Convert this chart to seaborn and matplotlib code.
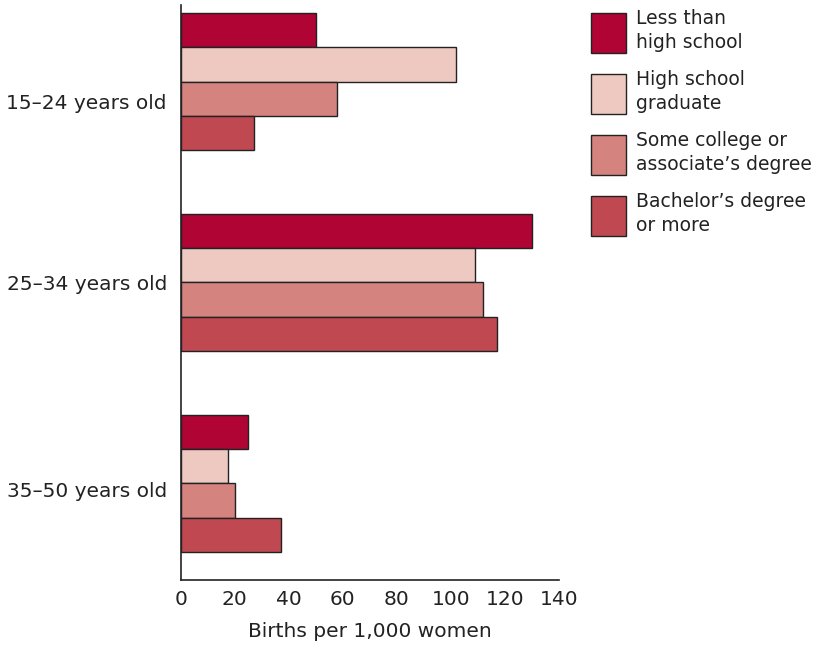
import matplotlib
matplotlib.use("Agg")
import matplotlib.pyplot as plt
import seaborn as sns
import pandas as pd

ages = ["15\u201324 years old", "25\u201334 years old", "35\u201350 years old"]
education = ["Less than\nhigh school", "High school\ngraduate",
             "Some college or\nassociate\u2019s degree", "Bachelor\u2019s degree\nor more"]
less_hs = [50, 130, 25]
hs_grad = [102, 109, 17.5]
some_college = [58, 112, 20]
bachelors = [27, 117, 37]
colors = ["#B00435", "#EDC9C1", "#D5837F", "#C04851"]

rows = []
for edu, vals in zip(education, [less_hs, hs_grad, some_college, bachelors]):
    for age, v in zip(ages, vals):
        rows.append({"age": age, "education": edu, "births": v})
df = pd.DataFrame(rows)

sns.set_style("white")
plt.rcParams["font.family"] = ["DejaVu Sans"]

fig = plt.figure(figsize=(8.22, 6.45), dpi=100)
ax = fig.add_axes([0.220, 0.101, 0.460, 0.891])
sns.barplot(data=df, y="age", x="births", hue="education", orient="h",
            palette=colors, width=0.68, edgecolor="#222222", linewidth=1.0,
            saturation=1, ax=ax)

ax.set_xlim(0, 140)
ax.set_ylim(2.48, -0.38)
ax.set_xticks(range(0, 141, 20))
# labels sit slightly below the group centres in the original
ax.set_yticks([0.1, 1.0, 2.03])
ax.set_yticklabels(ages)
ax.set_xlabel("Births per 1,000 women", fontsize=14.5, color="#222222", labelpad=10)
ax.set_ylabel("")
ax.tick_params(axis="x", direction="in", length=8, width=1, labelsize=14.5,
               colors="#222222", pad=7)
ax.tick_params(axis="y", length=0, labelsize=14.5, colors="#222222", pad=10)
for s in ["top", "right"]:
    ax.spines[s].set_visible(False)
for s in ["left", "bottom"]:
    ax.spines[s].set_color("#222222")
    ax.spines[s].set_linewidth(1.2)

handles, labels = ax.get_legend_handles_labels()
ax.get_legend().remove()
leg = fig.legend(handles, labels, loc="upper left", bbox_to_anchor=(0.707, 1.0),
                 frameon=False, fontsize=13.5, handlelength=1.9, handleheight=2.9,
                 handletextpad=0.5, labelspacing=0.95, labelcolor="#222222",
                 borderaxespad=0.1)
for t in leg.get_texts():
    t.set_linespacing(1.3)

fig.savefig("out.png", dpi=100)
